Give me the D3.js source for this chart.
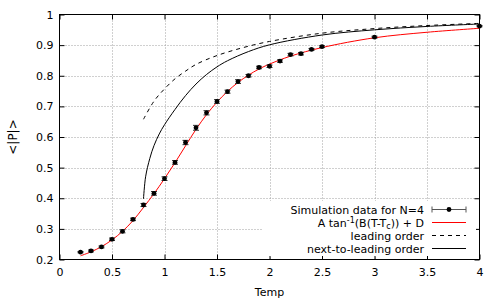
<!DOCTYPE html>
<html>
<head>
<meta charset="utf-8">
<script src="https://cdn.jsdelivr.net/npm/d3@7"></script>
<style>
  body { margin: 0; background: #fff; }
  svg { font-family: "DejaVu Sans", sans-serif; }
</style>
</head>
<body>
<div id="chart"></div>
<script>
// simulation data, N=4
const temps = [0.2, 0.3, 0.4, 0.5, 0.6, 0.7, 0.8, 0.9, 1.0, 1.1, 1.2, 1.3, 1.4, 1.5, 1.6, 1.7, 1.8, 1.9, 2.0, 2.1, 2.2, 2.3, 2.4, 2.5, 3.0, 4.0]
const pMean = [0.224, 0.228, 0.241, 0.266, 0.292, 0.331, 0.378, 0.416, 0.464, 0.517, 0.582, 0.630, 0.679, 0.716, 0.748, 0.781, 0.800, 0.827, 0.831, 0.848, 0.869, 0.872, 0.886, 0.895, 0.926, 0.962]
const pErr = [0.002, 0.003, 0.003, 0.004, 0.005, 0.004, 0.005, 0.006, 0.006, 0.006, 0.007, 0.008, 0.007, 0.006, 0.005, 0.006, 0.004, 0.004, 0.004, 0.004, 0.004, 0.004, 0.003, 0.003, 0.003, 0.002]

// arctan fit
const fitT = [0.2, 0.3, 0.4, 0.5, 0.6, 0.7, 0.8, 0.9, 1.0, 1.1, 1.2, 1.3, 1.4, 1.5, 1.6, 1.7, 1.8, 1.9, 2.0, 2.2, 2.5, 3.0, 3.5, 4.0]
const fitP = [0.212, 0.225, 0.242, 0.264, 0.292, 0.327, 0.370, 0.415, 0.464, 0.516, 0.571, 0.625, 0.673, 0.714, 0.749, 0.778, 0.802, 0.822, 0.838, 0.864, 0.892, 0.924, 0.942, 0.955]

// leading order
const loT = [0.8, 0.9, 1.0, 1.1, 1.2, 1.3, 1.5, 1.75, 2.0, 2.5, 3.0, 3.5, 4.0]
const loP = [0.658, 0.717, 0.757, 0.790, 0.815, 0.837, 0.866, 0.892, 0.912, 0.939, 0.954, 0.964, 0.971]

// next-to-leading order
const nloT = [0.8, 0.82, 0.86, 0.9, 0.95, 1.0, 1.1, 1.2, 1.3, 1.4, 1.5, 1.6, 1.8, 2.0, 2.5, 3.0, 3.5, 4.0]
const nloP = [0.398, 0.470, 0.530, 0.572, 0.610, 0.640, 0.690, 0.735, 0.773, 0.804, 0.829, 0.849, 0.879, 0.901, 0.933, 0.950, 0.961, 0.969]

const xTicks = [0, 0.5, 1, 1.5, 2, 2.5, 3, 3.5, 4]
const yTicks = [0.2, 0.3, 0.4, 0.5, 0.6, 0.7, 0.8, 0.9, 1]

const width = 500
const height = 300
const pLeft = 59.5, pRight = 479.5, pTop = 14.5, pBottom = 259.5

const x = d3.scaleLinear().domain([0, 4]).range([pLeft, pRight])
const y = d3.scaleLinear().domain([0.2, 1]).range([pBottom, pTop])

const svg = d3.select("#chart")
  .append("svg")
  .attr("width", width)
  .attr("height", height)

// grid
const grid = svg.append("g")
  .attr("stroke", "#a0a0a0")
  .attr("stroke-width", 1)
  .attr("stroke-dasharray", "1,2")
grid.selectAll(".gx")
  .data(xTicks.slice(1, -1))
  .enter().append("line")
  .attr("x1", d => Math.round(x(d)) + 0.5).attr("x2", d => Math.round(x(d)) + 0.5)
  .attr("y1", pTop).attr("y2", pBottom)
grid.selectAll(".gy")
  .data(yTicks.slice(1, -1))
  .enter().append("line")
  .attr("x1", pLeft).attr("x2", pRight)
  .attr("y1", d => Math.round(y(d)) + 0.5).attr("y2", d => Math.round(y(d)) + 0.5)

// axes: bottom/left with labels, top/right mirrored ticks only
const tick = 5
svg.append("g")
  .attr("transform", `translate(0,${pBottom})`)
  .call(d3.axisBottom(x).tickValues(xTicks).tickSizeInner(-tick).tickSizeOuter(0).tickPadding(9).tickFormat(d3.format("")))
svg.append("g")
  .attr("transform", `translate(${pLeft},0)`)
  .call(d3.axisLeft(y).tickValues(yTicks).tickSizeInner(-tick).tickSizeOuter(0).tickPadding(6).tickFormat(d3.format("")))
svg.append("g")
  .attr("transform", `translate(0,${pTop})`)
  .call(d3.axisTop(x).tickValues(xTicks).tickSizeInner(-tick).tickSizeOuter(0).tickFormat(""))
svg.append("g")
  .attr("transform", `translate(${pRight},0)`)
  .call(d3.axisRight(y).tickValues(yTicks).tickSizeInner(-tick).tickSizeOuter(0).tickFormat(""))

svg.selectAll(".tick line").attr("stroke", "#000")
svg.selectAll(".domain").remove()
svg.selectAll(".tick text")
  .attr("font-family", "DejaVu Sans")
  .attr("font-size", 11)
  .attr("fill", "#000")

svg.append("rect")
  .attr("x", pLeft).attr("y", pTop)
  .attr("width", pRight - pLeft).attr("height", pBottom - pTop)
  .attr("fill", "none").attr("stroke", "#000")

// legend background hides the grid behind it
svg.append("rect")
  .attr("x", 262).attr("y", 201)
  .attr("width", 214).attr("height", 55)
  .attr("fill", "#fff")

// curves
const line = d3.line()
  .x(d => x(d[0]))
  .y(d => y(d[1]))
  .curve(d3.curveCatmullRom.alpha(0.5))

svg.append("path")
  .datum(d3.zip(fitT, fitP))
  .attr("d", line)
  .attr("fill", "none").attr("stroke", "#ff0000").attr("stroke-width", 1)

svg.append("path")
  .datum(d3.zip(loT, loP))
  .attr("d", line)
  .attr("fill", "none").attr("stroke", "#000").attr("stroke-width", 1)
  .attr("stroke-dasharray", "4,4")

svg.append("path")
  .datum(d3.zip(nloT, nloP))
  .attr("d", line)
  .attr("fill", "none").attr("stroke", "#000").attr("stroke-width", 1)

// error bars + points
const sim = d3.zip(temps, pMean, pErr)
const bars = svg.append("g").attr("stroke", "#333").attr("stroke-width", 1)
sim.forEach(d => {
  const cx = x(d[0])
  bars.append("line").attr("x1", cx).attr("x2", cx).attr("y1", y(d[1] - d[2])).attr("y2", y(d[1] + d[2]))
  bars.append("line").attr("x1", cx - 3).attr("x2", cx + 3).attr("y1", y(d[1] - d[2])).attr("y2", y(d[1] - d[2]))
  bars.append("line").attr("x1", cx - 3).attr("x2", cx + 3).attr("y1", y(d[1] + d[2])).attr("y2", y(d[1] + d[2]))
})
svg.selectAll(".pt")
  .data(sim)
  .enter().append("circle")
  .attr("class", "pt")
  .attr("cx", d => x(d[0]))
  .attr("cy", d => y(d[1]))
  .attr("r", 2.4)
  .attr("fill", "#000")

// legend
const legX = 424, s0 = 432, s1 = 466
const rows = [209.5, 222.5, 235.5, 248.5]
const leg = svg.append("g").attr("font-size", 11).attr("text-anchor", "end")

leg.append("text").attr("x", legX).attr("y", rows[0] + 4).text("Simulation data for N=4")
const t2 = leg.append("text").attr("x", legX).attr("y", rows[1] + 4)
t2.append("tspan").text("A tan")
t2.append("tspan").attr("font-size", 8).attr("dy", -4).text("-1")
t2.append("tspan").attr("dy", 4).text("(B(T-T")
t2.append("tspan").attr("font-size", 8).attr("dy", 2.5).text("c")
t2.append("tspan").attr("dy", -2.5).text(")) + D")
leg.append("text").attr("x", legX).attr("y", rows[2] + 4).text("leading order")
leg.append("text").attr("x", legX).attr("y", rows[3] + 4).text("next-to-leading order")

leg.append("line").attr("x1", s0).attr("x2", s1).attr("y1", rows[0]).attr("y2", rows[0]).attr("stroke", "#555")
leg.append("line").attr("x1", s0).attr("x2", s0).attr("y1", rows[0] - 3).attr("y2", rows[0] + 3).attr("stroke", "#555")
leg.append("line").attr("x1", s1).attr("x2", s1).attr("y1", rows[0] - 3).attr("y2", rows[0] + 3).attr("stroke", "#555")
leg.append("circle").attr("cx", (s0 + s1) / 2).attr("cy", rows[0]).attr("r", 2.4).attr("fill", "#000")
leg.append("line").attr("x1", s0).attr("x2", s1).attr("y1", rows[1]).attr("y2", rows[1]).attr("stroke", "#ff0000")
leg.append("line").attr("x1", s0).attr("x2", s1).attr("y1", rows[2]).attr("y2", rows[2]).attr("stroke", "#000").attr("stroke-dasharray", "4,4")
leg.append("line").attr("x1", s0).attr("x2", s1).attr("y1", rows[3]).attr("y2", rows[3]).attr("stroke", "#000")

// axis titles
svg.append("text")
  .attr("x", (pLeft + pRight) / 2).attr("y", 296)
  .attr("text-anchor", "middle").attr("font-size", 11)
  .text("Temp")
svg.append("text")
  .attr("transform", `translate(17,${(pTop + pBottom) / 2}) rotate(-90)`)
  .attr("text-anchor", "middle").attr("font-size", 12)
  .text("<|P|>")
</script>
</body>
</html>
